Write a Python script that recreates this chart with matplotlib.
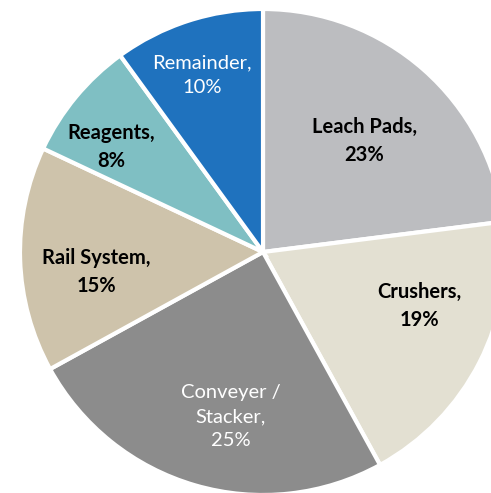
import matplotlib
matplotlib.use('Agg')
import numpy as np
from matplotlib import pyplot as plt

# cost breakdown, clockwise from 12 o'clock
categories = ['Leach Pads', 'Crushers', 'Conveyer /\nStacker', 'Rail System', 'Reagents', 'Remainder']
shares = [23, 19, 25, 15, 8, 10]
colors = ['#BCBDC0', '#E3E0D2', '#8C8C8C', '#CEC3AB', '#7FBFC3', '#1F72BE']
label_colors = ['black', 'black', 'white', 'black', 'black', 'white']
label_weights = ['bold', 'bold', 'normal', 'bold', 'bold', 'normal']

# label placement: fraction of radius, angular nudge (degrees)
label_dist = [0.62, 0.68, 0.69, 0.69, 0.76, 0.77]
label_nudge = [-1, 8, 5, 5, 5, 1]

W, H = 491, 493
cx, cy, r = 263, H - 252, 243

fig = plt.figure(figsize=(W / 100, H / 100), dpi=100)
ax = fig.add_axes([0, 0, 1, 1])
wedges, _ = ax.pie(shares, colors=colors, startangle=90, counterclock=False,
                   center=(cx, cy), radius=r,
                   wedgeprops=dict(edgecolor='white', linewidth=3))
ax.set_xlim(0, W)
ax.set_ylim(0, H)
ax.set_aspect('equal')
ax.axis('off')

for w, name, val, c, fw, d, nd in zip(wedges, categories, shares, label_colors,
                                      label_weights, label_dist, label_nudge):
    ang = np.deg2rad((w.theta1 + w.theta2) / 2 + nd)
    x = cx + d * r * np.cos(ang)
    y = cy + d * r * np.sin(ang)
    ax.text(x, y, f'{name},\n{val}%', ha='center', va='center', color=c,
            fontweight=fw, fontsize=14.5, family='Lato', linespacing=1.5)

fig.savefig('out.png', dpi=100)
